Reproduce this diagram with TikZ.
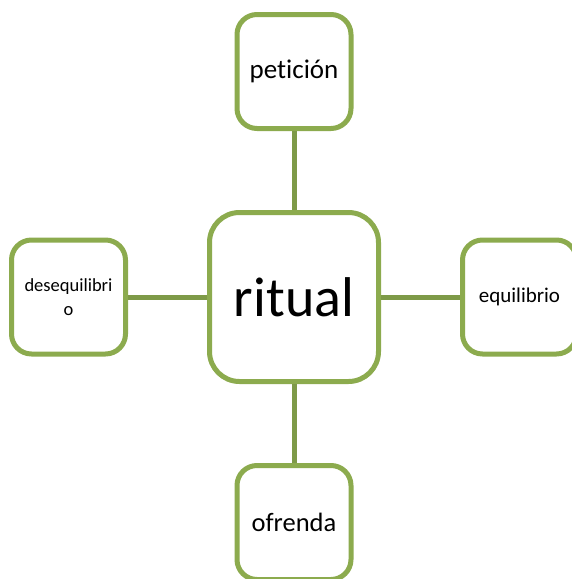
\documentclass[tikz,border=0pt]{standalone}
\usepackage{fontspec}
\setmainfont[Ligatures=NoCommon]{Carlito}
\usepackage{tikz}
\usetikzlibrary{positioning}

\definecolor{olivebox}{RGB}{140,171,78}
\definecolor{oliveline}{RGB}{126,154,72}

\tikzset{
    smallbox/.style={draw=olivebox, line width=5pt, fill=white, rounded corners=20pt,
        minimum width=114pt, minimum height=114pt, align=center, inner sep=2pt},
    bigbox/.style={draw=olivebox, line width=5pt, fill=white, rounded corners=30pt,
        minimum width=169pt, minimum height=169pt},
    conn/.style={draw=oliveline, line width=5pt}
}

\begin{document}
\begin{tikzpicture}[x=1pt, y=-1pt, node distance=79pt]
                \useasboundingbox (0,0) rectangle (572,579);

                \node[bigbox, font=\fontsize{56}{64}\selectfont] (ritual) at (294,297) {ritual};

                \node[smallbox, above=of ritual, font=\fontsize{27}{32}\selectfont] (peticion) {petición};
                \node[smallbox, below=of ritual, font=\fontsize{26.5}{32}\selectfont] (ofrenda) {ofrenda};
                \node[smallbox, left=of ritual, font=\fontsize{18.5}{24}\selectfont] (deseq) {desequilibri\\o};
                \node[smallbox, right=of ritual, font=\fontsize{21}{25}\selectfont] (equil) {equilibrio};

                \draw[conn] (ritual) -- (peticion);
                \draw[conn] (ritual) -- (ofrenda);
                \draw[conn] (ritual) -- (deseq);
                \draw[conn] (ritual) -- (equil);
            \end{tikzpicture}
\end{document}
